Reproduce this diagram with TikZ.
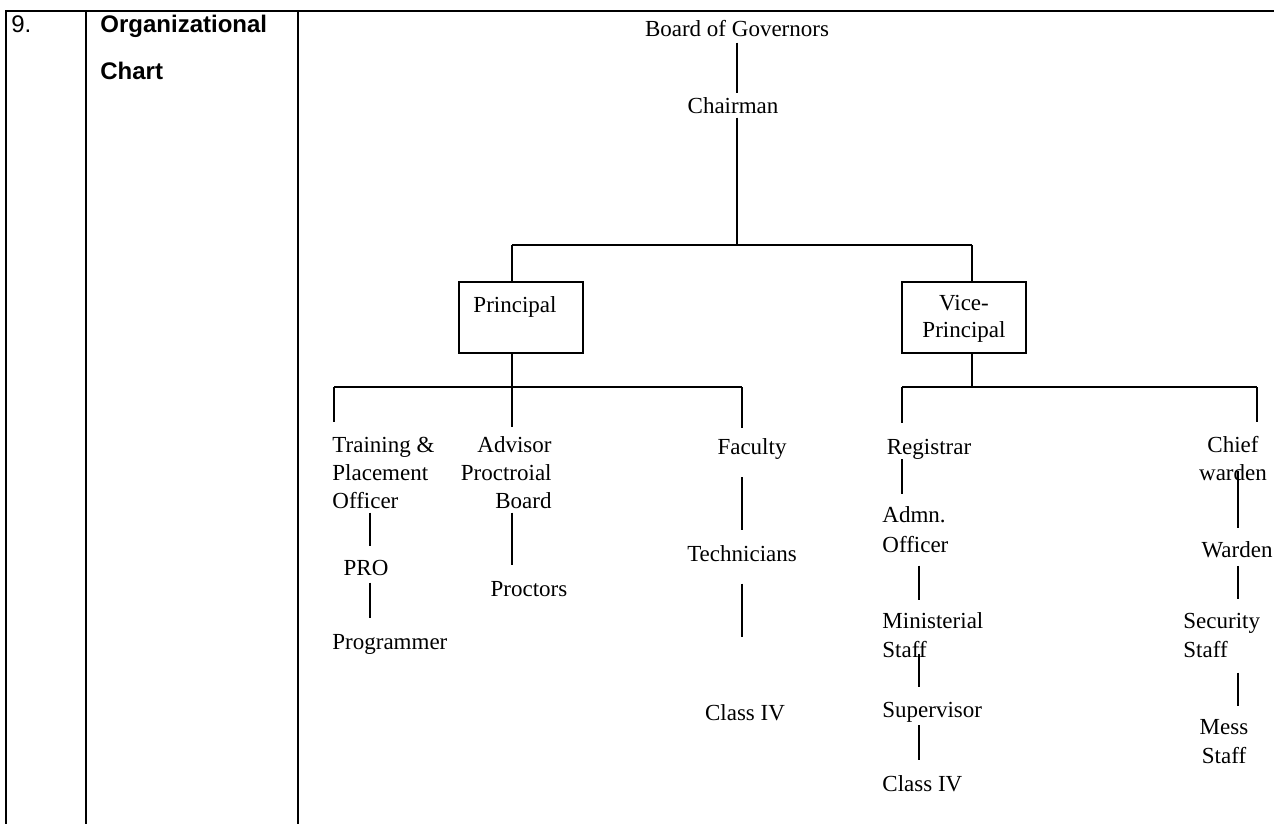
\documentclass[tikz,border=0pt]{standalone}
\usepackage{fontspec}
\setmainfont{Liberation Serif}
\newfontfamily\arialfont{Liberation Sans}
\usetikzlibrary{positioning}

\tikzset{
  post/.style={inner sep=0pt, font=\fontsize{11.5}{14.5}\selectfont},
  postbox/.style={post, draw, line width=0.8pt, minimum width=62pt, minimum height=35.5pt},
  cell/.style={inner sep=0pt, font=\arialfont\fontsize{12}{23.5}\selectfont},
  link/.style={line width=1.1pt},
  fine link/.style={line width=0.8pt},
  gap/.style 2 args={shorten <=#1, shorten >=#2},
}

\begin{document}
\begin{tikzpicture}[x=0.5pt, y=-0.5pt]
  \useasboundingbox (0,0) rectangle (1274,824);

  % table frame
  \draw[line width=1.35pt] (5,11) -- (1274,11);
  \draw[line width=1pt] (6,11) -- (6,824);
  \draw[line width=0.6pt] (86,11) -- (86,824);
  \draw[line width=1pt] (298,11) -- (298,824);

  % left cells (multi-line nodes sit on their last line)
  \node[cell, anchor=base west] (num) at (11,33) {9.};
  \node[cell, anchor=base west, align=left, font=\arialfont\bfseries\fontsize{12}{23.5}\selectfont] (title) at (100,80) {Organizational\\Chart};

  % top of the chart
  \node[post, anchor=base] (gov) at (737,37) {Board of Governors};
  \node[post, anchor=base] (chair) at (733,113) {Chairman};
  \node[postbox, anchor=north, text height=15.5pt, text depth=20pt] (prin) at (521,281) {Principal\kern6pt};
  \node[postbox, anchor=north, align=center, text height=28pt, text depth=7.5pt, font=\fontsize{11.5}{13.5}\selectfont] (vice) at (964,281) {Vice-\\Principal};

  % junctions and columns
  \coordinate (jl) at (512,245);
  \coordinate (jr) at (972,245);
  \coordinate (pl) at (334,387);
  \coordinate (pr) at (742,387);
  \coordinate (ql) at (902,387);
  \coordinate (qr) at (1257,387);
  \coordinate (colP) at (370,0);
  \coordinate (colR) at (919,0);
  \coordinate (colW) at (1238,0);

  % principal's side
  \node[post, anchor=base west, align=left, font=\fontsize{11.5}{14}\selectfont] (train) at (332,508) {Training \&\\Placement\\Officer};
  \node[post, anchor=base east, align=right, font=\fontsize{11.5}{14}\selectfont] (adv) at (552,508) {Advisor\\Proctroial\\Board};
  \node[post, anchor=base] (fac) at (752,454) {Faculty};
  \node[post, anchor=base] (pro) at (366,575) {PRO};
  \node[post, anchor=base west] (prog) at (332,649) {Programmer};
  \node[post, anchor=base] (proc) at (529,596) {Proctors};
  \node[post, anchor=base] (tech) at (742,561) {Technicians};
  \node[post, anchor=base] (cls) at (745,720) {Class IV};

  % vice-principal's side
  \node[post, anchor=base] (reg) at (929,454) {Registrar};
  \node[post, anchor=base west, align=left, font=\fontsize{11.5}{15}\selectfont] (adm) at (882,552) {Admn.\\Officer};
  \node[post, anchor=base west, align=left] (min) at (882,657) {Ministerial\\Staff};
  \node[post, anchor=base west] (sup) at (882,717) {Supervisor};
  \node[post, anchor=base west] (cls2) at (882,791) {Class IV};
  \node[post, anchor=base, align=center, font=\fontsize{11.5}{14}\selectfont] (chief) at (1233,480) {Chief\\warden};
  \node[post, anchor=base] (ward) at (1237,557) {Warden};
  \node[post, anchor=base west, align=left] (sec) at (1183,657) {Security\\Staff};
  \node[post, anchor=base, align=center] (mess) at (1224,763) {Mess\\Staff};

  % top links
  \draw[link, gap={2.5pt}{2pt}] (gov.south) -- (gov.south |- chair.north);
  \draw[link, shorten <=2pt] (gov.south |- chair.south) -- (gov.south |- jl);
  \draw[link] (jl) -- (jr);
  \draw[link] (jl) -- (jl |- prin.north);
  \draw[link] (jr) -- (jr |- vice.north);

  % principal's branches
  \draw[link, shorten >=4.5pt] (jl |- prin.south) -- (jl |- adv.north);
  \draw[link] (pl) -- (pr);
  \draw[link, shorten >=7pt] (pl) -- (pl |- train.north);
  \draw[link, shorten >=5pt] (pr) -- (pr |- fac.north);
  \draw[link, gap={2pt}{6.5pt}] (colP |- train.south) -- (colP |- pro.north);
  \draw[link, gap={3.5pt}{8pt}] (colP |- pro.south) -- (colP |- prog.north);
  \draw[link, gap={2pt}{8pt}] (jl |- adv.south) -- (jl |- proc.north);
  \draw[link, gap={9pt}{7.5pt}] (pr |- fac.south) -- (pr |- tech.north);
  \draw[link, gap={11pt}{33.5pt}] (pr |- tech.south) -- (pr |- cls.north);

  % vice-principal's branches
  \draw[link] (jr |- vice.south) -- (jr |- qr);
  \draw[link] (ql) -- (qr);
  \draw[link, shorten >=7.5pt] (ql) -- (ql |- reg.north);
  \draw[link, shorten >=6.5pt] (qr) -- (qr |- chief.north);
  \draw[link, gap={0pt}{6pt}] (ql |- reg.south) -- (ql |- adm.north);
  \draw[link, gap={6.5pt}{6pt}] (colR |- adm.south) -- (colR |- min.north);
  \draw[link, gap={-2pt}{7pt}] (colR |- min.south) -- (colR |- sup.north);
  \draw[link, gap={1.5pt}{7.5pt}] (colR |- sup.south) -- (colR |- cls2.north);
  \draw[link, gap={-5pt}{6.5pt}] (colW |- chief.south) -- (colW |- ward.north);
  \draw[fine link, gap={4pt}{6.5pt}] (colW |- ward.south) -- (colW |- sec.north);
  \draw[fine link, gap={7.5pt}{6.5pt}] (colW |- sec.south) -- (colW |- mess.north);
\end{tikzpicture}
\end{document}
